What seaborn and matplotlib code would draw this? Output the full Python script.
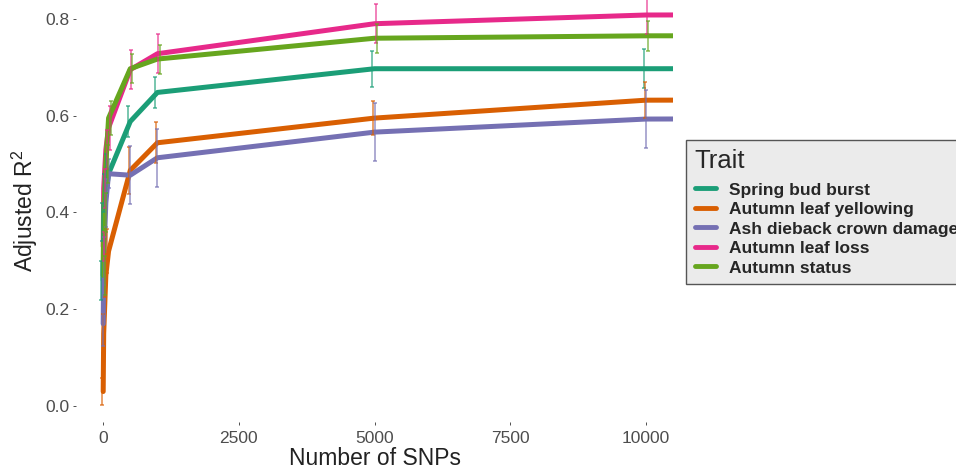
import numpy as np
import pandas as pd
import matplotlib
matplotlib.use("Agg")
import matplotlib.pyplot as plt
import seaborn as sns

# -------------------------------
# data
# -------------------------------
n_snps = [1, 10, 50, 100, 500, 1000, 5000, 10000, 20000]
traits = ["Spring bud burst", "Autumn leaf yellowing", "Ash dieback crown damage",
          "Autumn leaf loss", "Autumn status"]

spring_bud = [0.26, 0.38, 0.44, 0.48, 0.588, 0.648, 0.697, 0.697, 0.698]
spring_bud_err = [0.04, 0.04, 0.04, 0.04, 0.033, 0.032, 0.037, 0.04, 0.04]
leaf_yellow = [0.03, 0.15, 0.27, 0.32, 0.487, 0.544, 0.595, 0.632, 0.634]
leaf_yellow_err = [0.028, 0.04, 0.045, 0.045, 0.048, 0.042, 0.035, 0.037, 0.037]
ash_dieback = [0.17, 0.30, 0.42, 0.48, 0.477, 0.513, 0.566, 0.593, 0.596]
ash_dieback_err = [0.045, 0.05, 0.05, 0.03, 0.06, 0.06, 0.06, 0.06, 0.06]
leaf_loss = [0.33, 0.45, 0.53, 0.575, 0.695, 0.728, 0.79, 0.808, 0.81]
leaf_loss_err = [0.03, 0.04, 0.04, 0.045, 0.04, 0.04, 0.04, 0.04, 0.04]
autumn_status = [0.27, 0.40, 0.50, 0.595, 0.697, 0.717, 0.760, 0.765, 0.766]
autumn_status_err = [0.04, 0.04, 0.04, 0.035, 0.03, 0.03, 0.03, 0.031, 0.031]

values = [spring_bud, leaf_yellow, ash_dieback, leaf_loss, autumn_status]
errors = [spring_bud_err, leaf_yellow_err, ash_dieback_err, leaf_loss_err, autumn_status_err]
colors = ["#1B9E77", "#D95F02", "#7570B3", "#E7298A", "#66A61E"]

rows = []
for t, v, e in zip(traits, values, errors):
    for x, y, s in zip(n_snps, v, e):
        rows.append({"SNPs": x, "R2": y, "err": s, "Trait": t})
df = pd.DataFrame(rows)

# -------------------------------
# plot
# -------------------------------
sns.set_theme(style="white")
plt.rcParams["font.family"] = ["Liberation Sans", "DejaVu Sans"]
plt.rcParams["mathtext.fontset"] = "custom"
plt.rcParams["mathtext.rm"] = "Liberation Sans"

fig = plt.figure(figsize=(9.56, 4.71), dpi=100)
ax = fig.add_axes([0.0795, 0.104, 0.6245, 0.896])

sns.lineplot(data=df, x="SNPs", y="R2", hue="Trait", hue_order=traits,
             palette=colors, lw=3.6, ax=ax, sort=True, estimator=None)

# error bars, slightly dodged
offsets = [-40, -20, 0, 20, 40]
for t, c, off in zip(traits, colors, offsets):
    d = df[df["Trait"] == t]
    ax.errorbar(d["SNPs"] + off, d["R2"], yerr=d["err"], fmt="none",
                ecolor=c, elinewidth=1.1, capsize=1.2, capthick=1.1, alpha=0.75)

ax.set_xlim(-500, 10500)
ax.set_ylim(-0.033, 0.839)
ax.set_xticks([0, 2500, 5000, 7500, 10000])
ax.set_yticks([0.0, 0.2, 0.4, 0.6, 0.8])
ax.set_yticklabels(["0.0", "0.2", "0.4", "0.6", "0.8"])
for s in ax.spines.values():
    s.set_visible(False)
ax.tick_params(axis="both", which="both", direction="out", length=2.5, width=0.6,
               color="#333333", labelcolor="#4D4D4D", labelsize=12.5, pad=2,
               bottom=True, left=True)
ax.tick_params(axis="x", pad=4)
ax.set_xlabel("Number of SNPs", fontsize=16.5, color="#222222", labelpad=0.5)
ax.set_ylabel(r"Adjusted R$^{\mathregular{2}}$", fontsize=16.5, color="#222222", labelpad=4)

handles, labels = ax.get_legend_handles_labels()
leg = ax.legend(handles, labels, title="Trait", loc="upper left",
                bbox_to_anchor=(0.7176, 0.7028), bbox_transform=fig.transFigure,
                borderaxespad=0, frameon=True, fancybox=False,
                facecolor="#EBEBEB", edgecolor="#555555", framealpha=1,
                prop={"weight": "bold", "size": 12.5}, title_fontsize=18.5,
                handlelength=1.2, handletextpad=0.8, labelspacing=0.25,
                borderpad=0.5)
leg._legend_box.align = "left"
leg._legend_box.sep = 7
for h in leg.legend_handles:
    h.set_linewidth(3.5)

fig.savefig("out.png", dpi=100)
